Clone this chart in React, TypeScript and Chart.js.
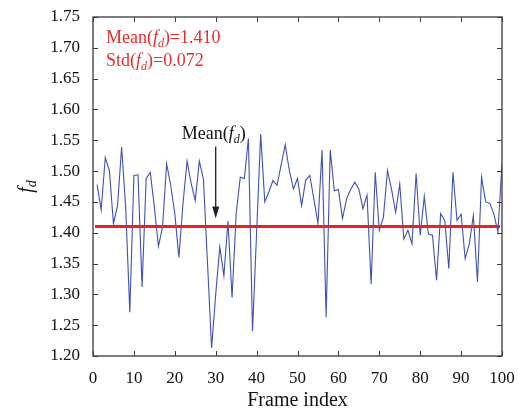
import React, { useEffect, useRef } from "react";
import { Chart, registerables } from "chart.js";

Chart.register(...registerables);

// Frame index of each sample (1..100)
const frames: number[] = Array.from({ length: 100 }, (_, i) => i + 1);

// fractal dimension f_d per frame
const fdValues: number[] = [
  1.478, 1.437, 1.522, 1.501, 1.415, 1.444, 1.539, 1.44, 1.271, 1.493,
  1.494, 1.312, 1.488, 1.498, 1.442, 1.378, 1.409, 1.512, 1.477, 1.431,
  1.36, 1.447, 1.516, 1.48, 1.452, 1.516, 1.487, 1.35, 1.213, 1.3,
  1.377, 1.33, 1.419, 1.295, 1.43, 1.49, 1.488, 1.553, 1.24, 1.4,
  1.56, 1.45, 1.466, 1.485, 1.477, 1.51, 1.543, 1.501, 1.471, 1.488,
  1.444, 1.485, 1.493, 1.455, 1.415, 1.534, 1.263, 1.534, 1.468, 1.47,
  1.423, 1.455, 1.47, 1.482, 1.471, 1.439, 1.461, 1.317, 1.498, 1.404,
  1.425, 1.501, 1.47, 1.433, 1.479, 1.39, 1.404, 1.382, 1.496, 1.396,
  1.459, 1.398, 1.396, 1.323, 1.431, 1.42, 1.342, 1.498, 1.42, 1.43,
  1.358, 1.382, 1.428, 1.32, 1.49, 1.45, 1.448, 1.431, 1.401, 1.512,
];

const meanValue = 1.41;
const meanFrames: number[] = [0.5, 99.5];
const meanText = "1.410";
const stdText = "0.072";

// arrow annotation (data units)
const arrowFrame = 30;
const arrowFromValue = 1.54;
const arrowToValue = 1.423;
const arrowTextValue = 1.552;

const xMin = 0;
const xMax = 100;
const xStep = 10;
const yMin = 1.2;
const yMax = 1.75;
const yStep = 0.05;

const SERIF = '"Liberation Serif", "DejaVu Serif", serif';

type Part = { text: string; italic?: boolean; sub?: boolean };

function drawParts(
  ctx: CanvasRenderingContext2D,
  parts: Part[],
  x: number,
  y: number,
  size: number,
  color: string,
  align: "left" | "center" = "left"
) {
  const subSize = Math.round(size * 0.68);
  const fontFor = (p: Part) =>
    `${p.italic ? "italic " : ""}${p.sub ? subSize : size}px ${SERIF}`;
  let total = 0;
  const widths = parts.map((p) => {
    ctx.font = fontFor(p);
    const w = ctx.measureText(p.text).width;
    total += w;
    return w;
  });
  let cx = align === "center" ? x - total / 2 : x;
  ctx.fillStyle = color;
  ctx.textBaseline = "alphabetic";
  ctx.textAlign = "left";
  parts.forEach((p, i) => {
    ctx.font = fontFor(p);
    ctx.fillText(p.text, cx, p.sub ? y + size * 0.22 : y);
    cx += widths[i];
  });
}

const decorPlugin = {
  id: "decor",
  afterDraw(chart: any) {
    const { ctx, chartArea, scales } = chart;
    const { left, right, top, bottom } = chartArea;
    const xs = scales.x;
    const ys = scales.y;
    ctx.save();

    // frame
    ctx.strokeStyle = "#3a3a3a";
    ctx.lineWidth = 1.3;
    ctx.strokeRect(left, top, right - left, bottom - top);

    // inward ticks
    const tl = 5;
    ctx.lineWidth = 1;
    ctx.beginPath();
    ys.ticks.forEach((t: any) => {
      const py = Math.round(ys.getPixelForValue(t.value)) + 0.5;
      ctx.moveTo(left, py);
      ctx.lineTo(left + tl, py);
      ctx.moveTo(right, py);
      ctx.lineTo(right - tl, py);
    });
    xs.ticks.forEach((t: any) => {
      const px = Math.round(xs.getPixelForValue(t.value)) + 0.5;
      ctx.moveTo(px, bottom);
      ctx.lineTo(px, bottom - tl);
      ctx.moveTo(px, top);
      ctx.lineTo(px, top + tl);
    });
    ctx.stroke();

    // red statistics text
    const red = "#ec2b2b";
    drawParts(
      ctx,
      [
        { text: "Mean(" },
        { text: "f", italic: true },
        { text: "d", italic: true, sub: true },
        { text: ")=" + meanText },
      ],
      left + 13,
      top + 26,
      18,
      red
    );
    drawParts(
      ctx,
      [
        { text: "Std(" },
        { text: "f", italic: true },
        { text: "d", italic: true, sub: true },
        { text: ")=" + stdText },
      ],
      left + 13,
      top + 49,
      18,
      red
    );

    // arrow
    const ax = xs.getPixelForValue(arrowFrame);
    const ay0 = ys.getPixelForValue(arrowFromValue);
    const ay1 = ys.getPixelForValue(arrowToValue);
    ctx.strokeStyle = "#222";
    ctx.fillStyle = "#222";
    ctx.lineWidth = 1.3;
    ctx.beginPath();
    ctx.moveTo(ax, ay0);
    ctx.lineTo(ax, ay1 - 8);
    ctx.stroke();
    ctx.beginPath();
    ctx.moveTo(ax, ay1);
    ctx.lineTo(ax - 3.5, ay1 - 12);
    ctx.lineTo(ax + 3.5, ay1 - 12);
    ctx.closePath();
    ctx.fill();

    drawParts(
      ctx,
      [
        { text: "Mean(" },
        { text: "f", italic: true },
        { text: "d", italic: true, sub: true },
        { text: ")" },
      ],
      ax - 2,
      ys.getPixelForValue(arrowTextValue),
      18,
      "#111",
      "center"
    );

    // y axis label f_d (rotated)
    ctx.save();
    ctx.translate(32, (top + bottom) / 2);
    ctx.rotate(-Math.PI / 2);
    drawParts(
      ctx,
      [
        { text: "f", italic: true },
        { text: "d", italic: true, sub: true },
      ],
      0,
      0,
      20,
      "#111",
      "center"
    );
    ctx.restore();

    ctx.restore();
  },
};

export default function App() {
  const canvasRef = useRef<HTMLCanvasElement | null>(null);

  useEffect(() => {
    document.body.style.margin = "0";
    const canvas = canvasRef.current;
    if (!canvas) return;

    const chart = new Chart(canvas, {
      type: "line",
      data: {
        datasets: [
          {
            label: "Mean",
            data: meanFrames.map((f) => ({ x: f, y: meanValue })),
            borderColor: "#ee2222",
            borderWidth: 3,
            pointRadius: 0,
            tension: 0,
          },
          {
            label: "fd",
            data: frames.map((f, i) => ({ x: f, y: fdValues[i] })),
            borderColor: "#3d52b4",
            borderWidth: 1.1,
            pointRadius: 0,
            tension: 0,
          },
        ],
      },
      options: {
        animation: false,
        responsive: false,
        maintainAspectRatio: false,
        layout: { padding: { left: 0, right: 16, top: 17, bottom: 0 } },
        plugins: {
          legend: { display: false },
          tooltip: { enabled: false },
        },
        scales: {
          x: {
            type: "linear",
            min: xMin,
            max: xMax,
            grid: { display: false, drawTicks: false },
            border: { display: false },
            ticks: {
              stepSize: xStep,
              padding: 12,
              color: "#111",
              font: { family: SERIF, size: 17 },
              maxRotation: 0,
            },
            title: {
              display: true,
              text: "Frame index",
              color: "#111",
              font: { family: SERIF, size: 20 },
              padding: { top: 0, bottom: 5 },
            },
            afterFit: (scale: any) => {
              scale.height = 62;
              scale.paddingLeft = 0;
              scale.paddingRight = 0;
            },
          },
          y: {
            type: "linear",
            min: yMin,
            max: yMax,
            grid: { display: false, drawTicks: false },
            border: { display: false },
            ticks: {
              stepSize: yStep,
              padding: 13,
              color: "#111",
              font: { family: SERIF, size: 17 },
              callback: (v: any) => Number(v).toFixed(2),
            },
            afterFit: (scale: any) => {
              scale.width = 93;
              scale.paddingTop = 0;
              scale.paddingBottom = 0;
            },
          },
        },
      },
      plugins: [decorPlugin],
    });

    return () => chart.destroy();
  }, []);

  return (
    <div style={{ width: 518, height: 418, background: "#fff" }}>
      <canvas ref={canvasRef} width={518} height={418} style={{ width: 518, height: 418 }} />
    </div>
  );
}
